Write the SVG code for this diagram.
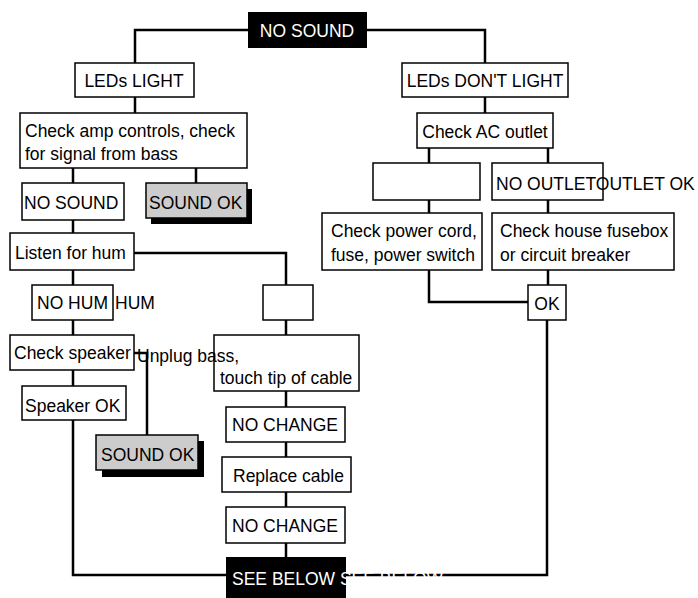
<svg xmlns="http://www.w3.org/2000/svg" width="698" height="598" viewBox="0 0 698 598">
<style>
.b{fill:#fff;stroke:#000;stroke-width:1.5}
.k{fill:#000}
.g{fill:#ccc;stroke:#000;stroke-width:1.5}
.t{font-family:"Liberation Sans",Arial,sans-serif;font-size:17.5px;fill:#000}
.w{fill:#fff}
.c{fill:none;stroke:#000;stroke-width:2.5}
</style>
<rect width="698" height="598" fill="#fff"/>
<g id="connectors">
<path class="c" d="M248 30H135V63M367 30H485V63M135 97V113M73 168V183M196 168V183M73 220V233M134 253H286V285M73 270V285M73 320V335M73 370V386M134 353H147V435M286 320V335M73 420V575H228M286 391V407M286 442V457M286 492V507M286 543V557M346 575H547V320M485 97V113M429 148V163M548 148V163M429 200V213M548 200V213M429 270V302H528M548 270V285"/>
</g>
<g id="n1"><rect class="k" x="248" y="12" width="119" height="36"/><text class="t w" x="307" y="37" text-anchor="middle">NO SOUND</text></g>
<g id="n2"><rect class="b" x="75" y="63" width="119" height="34"/><text class="t" x="134" y="87" text-anchor="middle">LEDs LIGHT</text></g>
<g id="n3"><rect class="b" x="20" y="113" width="227" height="55"/><text class="t" x="25" y="137">Check amp controls, check</text><text class="t" x="25" y="160">for signal from bass</text></g>
<g id="n4"><rect class="b" x="22" y="183" width="102" height="37"/><text class="t" x="24" y="209">NO SOUND</text></g>
<g id="n5"><rect class="k" x="151" y="189" width="101" height="35"/><rect class="g" x="146" y="183" width="101" height="35"/><text class="t" x="149" y="209">SOUND OK</text></g>
<g id="n6"><rect class="b" x="10" y="233" width="124" height="37"/><text class="t" x="15" y="259">Listen for hum</text></g>
<g id="n7"><rect class="b" x="263" y="285" width="50" height="35"/></g>
<g id="n8"><rect class="b" x="32" y="285" width="81" height="35"/><text class="t" x="37" y="309">NO HUM</text><text class="t" x="115" y="309">HUM</text></g>
<g id="n9"><rect class="b" x="10" y="335" width="124" height="35"/><text class="t" x="14" y="359">Check speaker</text></g>
<g id="n10"><rect class="b" x="214" y="335" width="145" height="56"/><text class="t" x="137" y="362">Unplug bass,</text><text class="t" x="220" y="384">touch tip of cable</text></g>
<g id="n11"><rect class="b" x="22" y="386" width="104" height="34"/><text class="t" x="25" y="412">Speaker OK</text></g>
<g id="n12"><rect class="k" x="102" y="441" width="102" height="36"/><rect class="g" x="96" y="435" width="102" height="35"/><text class="t" x="101" y="461">SOUND OK</text></g>
<g id="n13"><rect class="b" x="226" y="407" width="119" height="35"/><text class="t" x="232" y="431">NO CHANGE</text></g>
<g id="n14"><rect class="b" x="222" y="457" width="129" height="35"/><text class="t" x="233" y="482">Replace cable</text></g>
<g id="n15"><rect class="b" x="226" y="507" width="119" height="36"/><text class="t" x="232" y="532">NO CHANGE</text></g>
<g id="n16"><rect class="k" x="226" y="557" width="120" height="41"/><text class="t w" x="232" y="585">SEE BELOW SEE BELOW</text></g>
<g id="n17"><rect class="b" x="402" y="63" width="166" height="34"/><text class="t" x="485" y="87" text-anchor="middle">LEDs DON'T LIGHT</text></g>
<g id="n18"><rect class="b" x="417" y="113" width="136" height="35"/><text class="t" x="485" y="138" text-anchor="middle">Check AC outlet</text></g>
<g id="n19"><rect class="b" x="373" y="163" width="107" height="37"/></g>
<g id="n20"><rect class="b" x="492" y="163" width="111" height="37"/><text class="t" x="496" y="190">NO OUTLETOUTLET OK</text></g>
<g id="n21"><rect class="b" x="322" y="213" width="160" height="57"/><text class="t" x="331" y="237">Check power cord,</text><text class="t" x="331" y="261">fuse, power switch</text></g>
<g id="n22"><rect class="b" x="492" y="213" width="182" height="57"/><text class="t" x="500" y="237">Check house fusebox</text><text class="t" x="500" y="261">or circuit breaker</text></g>
<g id="n23"><rect class="b" x="528" y="285" width="38" height="35"/><text class="t" x="547" y="310" text-anchor="middle">OK</text></g>
</svg>
